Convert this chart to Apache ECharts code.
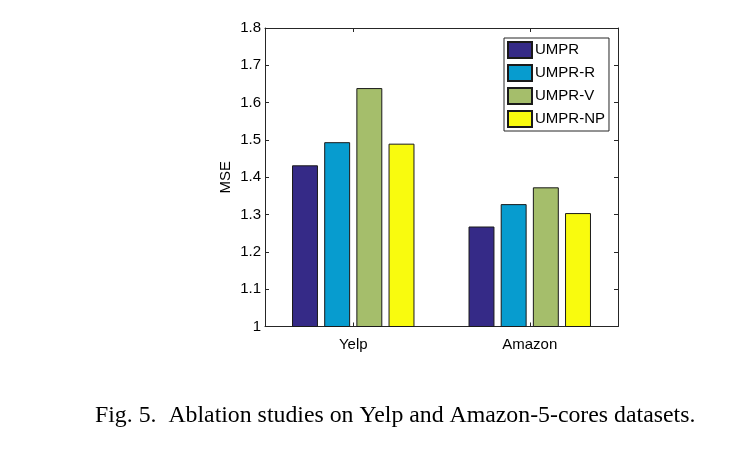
<!DOCTYPE html>
<html>
<head>
<meta charset="utf-8">
<script src="https://cdn.jsdelivr.net/npm/echarts@6/dist/echarts.min.js"></script>
<style>
html,body{margin:0;padding:0;background:#fff;}
#c{width:755px;height:449px;}
</style>
</head>
<body>
<div id="c"></div>
<script>
var categories = ['Yelp', 'Amazon'];
var seriesNames = ['UMPR', 'UMPR-R', 'UMPR-V', 'UMPR-NP'];
var umpr   = [1.432, 1.268];
var umprR  = [1.494, 1.328];
var umprV  = [1.639, 1.373];
var umprNP = [1.490, 1.304];
var yTicks = [1, 1.1, 1.2, 1.3, 1.4, 1.5, 1.6, 1.7, 1.8];
var caption = 'Fig. 5.\u00a0\u00a0Ablation studies on Yelp and Amazon-5-cores datasets.';

var colors = ['#352A87', '#079CCF', '#A5BE6B', '#F9FB0E'];
var values = [umpr, umprR, umprV, umprNP];
var axisCol = '#262626';
var font = 'Liberation Sans, Arial, Helvetica, sans-serif';

var chart = echarts.init(document.getElementById('c'), null, {renderer: 'canvas'});
var series = seriesNames.map(function (n, i) {
  return {
    name: n,
    type: 'bar',
    data: values[i],
    barWidth: '14.7%',
    barGap: '24%',
    itemStyle: {color: colors[i], borderColor: '#1a1a1a', borderWidth: 1},
    animation: false
  };
});
chart.setOption({
  animation: false,
  backgroundColor: '#fff',
  textStyle: {fontFamily: font},
  grid: {left: 265, right: 137, top: 28, bottom: 122.5, containLabel: false},
  legend: {
    data: seriesNames,
    orient: 'vertical',
    left: 504,
    top: 38,
    padding: [3, 4, 3, 3],
    itemWidth: 24,
    itemHeight: 16,
    itemGap: 5,
    borderColor: axisCol,
    borderWidth: 1,
    backgroundColor: '#fff',
    icon: 'rect',
    textStyle: {fontFamily: font, fontSize: 15, color: '#000', padding: [0, 0, 0, -2]}
  },
  xAxis: [{
    type: 'category',
    data: categories,
    boundaryGap: true,
    axisLine: {lineStyle: {color: axisCol, width: 1}},
    axisTick: {show: true, inside: true, alignWithLabel: true, length: 4, lineStyle: {color: axisCol}},
    axisLabel: {color: '#000', fontSize: 15, fontFamily: font, margin: 11},
    splitLine: {show: false}
  }, {
    type: 'category',
    data: categories,
    position: 'top',
    boundaryGap: true,
    axisLine: {show: true, lineStyle: {color: axisCol, width: 1}},
    axisTick: {show: true, inside: true, alignWithLabel: true, length: 4, lineStyle: {color: axisCol}},
    axisLabel: {show: false},
    splitLine: {show: false}
  }],
  yAxis: [{
    type: 'value',
    min: 1, max: 1.8, interval: 0.1,
    name: 'MSE',
    nameLocation: 'middle',
    nameGap: 32,
    nameRotate: 90,
    nameTextStyle: {color: '#000', fontSize: 15, fontFamily: font},
    axisLine: {show: true, lineStyle: {color: axisCol, width: 1}},
    axisTick: {show: true, inside: true, length: 4, lineStyle: {color: axisCol}},
    axisLabel: {color: '#000', fontSize: 15, fontFamily: font, margin: 4,
      formatter: function (v) { var t = yTicks.find(function (k) { return Math.abs(k - v) < 1e-6; }); return t === undefined ? '' : String(t); }},
    splitLine: {show: false}
  }, {
    type: 'value',
    min: 1, max: 1.8, interval: 0.1,
    position: 'right',
    axisLine: {show: true, lineStyle: {color: axisCol, width: 1}},
    axisTick: {show: true, inside: true, length: 4, lineStyle: {color: axisCol}},
    axisLabel: {show: false},
    splitLine: {show: false}
  }],
  series: series,
  graphic: [{
    type: 'text',
    left: 95,
    top: 404,
    style: {text: caption, fontFamily: 'Liberation Serif, Times New Roman, serif', fontSize: 23.8, fill: '#000'}
  }]
});
</script>
</body>
</html>
